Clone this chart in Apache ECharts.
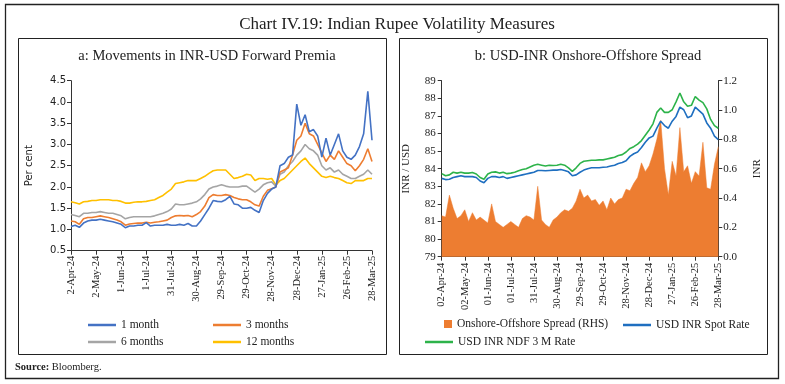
<!DOCTYPE html>
<html>
<head>
<meta charset="utf-8">
<script src="https://cdn.jsdelivr.net/npm/echarts@6/dist/echarts.min.js"></script>
<style>
html,body{margin:0;padding:0;background:#fff;}
#c{width:785px;height:384px;}
</style>
</head>
<body>
<div id="c"></div>
<script>
// ---- Data (5-day steps, 2-Apr-24 .. 28-Mar-25) ----
const leftTickLabels = ['2-Apr-24','2-May-24','1-Jun-24','1-Jul-24','31-Jul-24','30-Aug-24','29-Sep-24','29-Oct-24','28-Nov-24','28-Dec-24','27-Jan-25','26-Feb-25','28-Mar-25'];
const rightTickLabels = ['02-Apr-24','02-May-24','01-Jun-24','01-Jul-24','31-Jul-24','30-Aug-24','29-Sep-24','29-Oct-24','28-Nov-24','28-Dec-24','27-Jan-25','26-Feb-25','28-Mar-25'];

const fwd1m = [1.07,1.10,1.05,1.15,1.20,1.22,1.22,1.24,1.22,1.20,1.18,1.15,1.12,1.04,1.08,1.08,1.10,1.10,1.16,1.08,1.10,1.10,1.10,
  1.12,1.10,1.10,1.12,1.10,1.14,1.08,1.08,1.20,1.35,1.50,1.68,1.66,1.65,1.70,1.78,1.60,1.58,1.50,1.50,1.52,1.45,1.40,1.68,1.85,1.95,
  2.00,2.50,2.55,2.70,2.75,3.95,3.45,3.70,3.30,3.35,3.20,2.70,3.15,2.75,3.00,3.25,2.85,2.70,2.65,2.75,2.95,3.25,4.25,3.10];
const fwd3m = [1.20,1.18,1.12,1.25,1.28,1.28,1.30,1.32,1.30,1.28,1.25,1.22,1.18,1.10,1.13,1.14,1.15,1.15,1.17,1.15,1.17,1.18,1.20,
  1.22,1.28,1.32,1.33,1.32,1.33,1.30,1.35,1.42,1.55,1.75,1.82,1.80,1.80,1.82,1.80,1.75,1.72,1.70,1.70,1.65,1.58,1.55,1.78,1.92,1.96,
  2.00,2.35,2.40,2.45,2.75,3.10,3.20,3.50,3.25,3.20,3.00,2.80,2.60,2.75,2.65,2.85,2.70,2.55,2.50,2.38,2.50,2.65,2.90,2.60];
const fwd6m = [1.35,1.33,1.30,1.38,1.38,1.40,1.40,1.42,1.40,1.38,1.38,1.35,1.32,1.25,1.28,1.30,1.30,1.30,1.30,1.30,1.32,1.35,1.38,
  1.42,1.48,1.60,1.58,1.58,1.60,1.62,1.65,1.72,1.82,1.95,2.00,2.02,2.05,2.02,2.00,2.00,2.00,2.02,2.02,1.95,1.88,1.95,2.05,2.10,2.12,
  2.02,2.30,2.35,2.50,2.60,2.75,2.85,3.00,2.90,2.85,2.75,2.50,2.40,2.45,2.35,2.40,2.30,2.25,2.20,2.20,2.25,2.30,2.40,2.30];
const fwd12m = [1.65,1.63,1.60,1.65,1.66,1.68,1.68,1.70,1.70,1.70,1.68,1.68,1.66,1.62,1.62,1.64,1.65,1.65,1.66,1.68,1.70,1.75,1.80,
  1.88,1.95,2.08,2.10,2.12,2.15,2.15,2.15,2.20,2.25,2.32,2.38,2.40,2.40,2.40,2.30,2.20,2.22,2.25,2.30,2.28,2.15,2.20,2.20,2.18,2.20,
  2.05,2.15,2.20,2.30,2.40,2.50,2.60,2.68,2.55,2.45,2.35,2.25,2.22,2.25,2.22,2.20,2.15,2.10,2.08,2.15,2.15,2.15,2.20,2.20];

const spotRate = [83.45,83.38,83.40,83.50,83.55,83.60,83.55,83.55,83.55,83.50,83.30,83.20,83.45,83.55,83.55,83.50,83.55,83.45,83.50,83.55,83.60,83.65,83.70,
  83.75,83.80,83.90,83.90,83.88,83.90,83.92,83.92,83.95,83.90,83.82,83.60,83.65,83.80,83.92,84.00,84.05,84.05,84.05,84.08,84.10,84.15,84.20,84.30,84.35,84.45,
  84.70,84.85,84.95,85.20,85.50,85.75,85.85,86.30,86.70,86.45,86.30,86.70,86.97,87.50,87.35,86.90,87.00,87.50,87.30,87.10,86.60,86.30,85.85,85.65];
const ndfRate = [83.72,83.60,83.65,83.80,83.75,83.80,83.75,83.75,83.78,83.70,83.50,83.40,83.70,83.80,83.82,83.75,83.80,83.72,83.75,83.80,83.88,83.95,84.00,
  84.10,84.20,84.25,84.20,84.15,84.20,84.18,84.20,84.25,84.20,84.05,83.85,84.05,84.30,84.42,84.45,84.48,84.48,84.50,84.50,84.55,84.60,84.65,84.75,84.80,84.95,
  85.15,85.25,85.40,85.60,85.90,86.20,86.55,87.20,87.45,87.20,87.20,87.35,87.80,88.30,87.80,87.55,87.60,88.10,87.90,87.75,87.40,86.80,86.45,86.30];
const spread = [0.28,0.27,0.42,0.33,0.26,0.28,0.32,0.24,0.30,0.25,0.27,0.25,0.23,0.36,0.24,0.22,0.20,0.22,0.24,0.22,0.20,0.26,0.28,
  0.27,0.25,0.48,0.25,0.22,0.20,0.25,0.27,0.30,0.32,0.31,0.33,0.38,0.46,0.40,0.42,0.38,0.39,0.35,0.38,0.32,0.40,0.36,0.39,0.40,0.46,
  0.45,0.50,0.54,0.64,0.58,0.62,0.70,0.80,0.93,0.60,0.42,0.65,0.55,0.88,0.58,0.62,0.50,0.58,0.55,0.78,0.47,0.46,0.63,0.75];

// category dates (5-day steps)
const categories = [];
(function(){
  const mon = ['Jan','Feb','Mar','Apr','May','Jun','Jul','Aug','Sep','Oct','Nov','Dec'];
  const d0 = Date.UTC(2024,3,2);
  for (let i = 0; i < spread.length; i++) {
    const d = new Date(d0 + i*5*86400000);
    categories.push(d.getUTCDate() + '-' + mon[d.getUTCMonth()] + '-' + String(d.getUTCFullYear()).slice(2));
  }
})();

const SERIF = '"Liberation Serif", "DejaVu Serif", serif';
const SANS = '"DejaVu Sans", sans-serif';
const AX = '#333';

const chart = echarts.init(document.getElementById('c'), null, {renderer:'canvas'});

function legendItem(name, left, top, icon, w, h) {
  return {data:[name], left:left, top:top, padding:0, icon:icon, itemWidth:w, itemHeight:h, itemGap:0,
    textStyle:{fontFamily:SERIF, fontSize:11.5, color:'#222'}, selectedMode:false};
}

const option = {
  animation:false,
  backgroundColor:'#fff',
  title:[
    {text:'Chart IV.19: Indian Rupee Volatility Measures', left:392, top:11, textAlign:'center',
     textStyle:{fontFamily:SERIF, fontSize:17, fontWeight:'normal', color:'#222'}},
    {text:'a: Movements in INR-USD Forward Premia', left:202, top:44, textAlign:'center',
     textStyle:{fontFamily:SERIF, fontSize:14.5, fontWeight:'normal', color:'#222'}},
    {text:'b: USD-INR Onshore-Offshore Spread', left:583, top:44, textAlign:'center',
     textStyle:{fontFamily:SERIF, fontSize:14.5, fontWeight:'normal', color:'#222'}}
  ],
  graphic:[
    {type:'rect', shape:{x:5.5, y:4.5, width:773, height:374}, style:{fill:'none', stroke:'#222', lineWidth:1.3}},
    {type:'rect', shape:{x:18.5, y:38.5, width:368, height:316}, style:{fill:'none', stroke:'#222', lineWidth:1}},
    {type:'rect', shape:{x:399.5, y:38.5, width:368, height:316}, style:{fill:'none', stroke:'#222', lineWidth:1}},
    {type:'text', left:15, top:362, style:{text:'{b|Source:} Bloomberg.', font:'10.5px ' + SERIF, fill:'#222',
      rich:{b:{fontWeight:'bold', fontFamily:SERIF, fontSize:10.5}}}}
  ],
  legend:[
    legendItem('1 month', 88, 319, 'rect', 28, 2.5),
    legendItem('3 months', 213, 319, 'rect', 28, 2.5),
    legendItem('6 months', 88, 336, 'rect', 28, 2.5),
    legendItem('12 months', 213, 336, 'rect', 28, 2.5),
    legendItem('Onshore-Offshore Spread (RHS)', 444, 318, 'rect', 8, 8),
    legendItem('USD INR Spot Rate', 623, 319, 'rect', 28, 2.5),
    legendItem('USD INR NDF 3 M Rate', 425, 336, 'rect', 28, 2.5)
  ],
  grid:[
    {left:71, right:413, top:80.7, bottom:133.3},
    {left:441.7, right:66.7, top:80.7, bottom:127.3}
  ],
  xAxis:[
    {type:'category', gridIndex:0, data:categories, boundaryGap:false,
     axisLine:{lineStyle:{color:AX, width:1}},
     axisTick:{interval:5, length:4, lineStyle:{color:AX}},
     axisLabel:{interval:5, rotate:90, margin:5, fontFamily:SERIF, fontSize:10.5, color:'#222',
       formatter:function(v, idx){ return leftTickLabels[Math.round(idx/6)] || ''; }}},
    {type:'category', gridIndex:1, data:categories, boundaryGap:false,
     axisLine:{lineStyle:{color:AX, width:1}},
     axisTick:{interval:5, length:4, lineStyle:{color:AX}},
     axisLabel:{interval:5, rotate:90, margin:6, fontFamily:SERIF, fontSize:10.5, color:'#222',
       formatter:function(v, idx){ return rightTickLabels[Math.round(idx/6)] || ''; }}}
  ],
  yAxis:[
    {type:'value', gridIndex:0, min:0.5, max:4.5, interval:0.5, splitLine:{show:false},
     axisLine:{show:true, lineStyle:{color:AX}}, axisTick:{show:true, length:4, lineStyle:{color:AX}},
     axisLabel:{fontFamily:SANS, fontSize:10, color:'#222', margin:5, formatter:function(v){return v.toFixed(1);}},
     name:'Per cent', nameLocation:'middle', nameGap:37, nameRotate:90,
     nameTextStyle:{fontFamily:SANS, fontSize:10, color:'#222'}},
    {type:'value', gridIndex:1, min:79, max:89, interval:1, splitLine:{show:false},
     axisLine:{show:true, lineStyle:{color:AX}}, axisTick:{show:true, length:4, lineStyle:{color:AX}},
     axisLabel:{fontFamily:SERIF, fontSize:11, color:'#222', margin:6},
     name:'INR / USD', nameLocation:'middle', nameGap:30, nameRotate:90,
     nameTextStyle:{fontFamily:SERIF, fontSize:11, color:'#222'}},
    {type:'value', gridIndex:1, position:'right', min:0, max:1.2, interval:0.2, splitLine:{show:false},
     axisLine:{show:true, lineStyle:{color:AX}}, axisTick:{show:true, length:4, lineStyle:{color:AX}},
     axisLabel:{fontFamily:SERIF, fontSize:11, color:'#222', margin:5, formatter:function(v){return v.toFixed(1);}},
     name:'INR', nameLocation:'middle', nameGap:33, nameRotate:90,
     nameTextStyle:{fontFamily:SERIF, fontSize:11, color:'#222'}}
  ],
  series:[
    {name:'12 months', type:'line', xAxisIndex:0, yAxisIndex:0, data:fwd12m, showSymbol:false, color:'#FFC000', lineStyle:{width:1.6, color:'#FFC000'}},
    {name:'6 months', type:'line', xAxisIndex:0, yAxisIndex:0, data:fwd6m, showSymbol:false, color:'#A5A5A5', lineStyle:{width:1.6, color:'#A5A5A5'}},
    {name:'3 months', type:'line', xAxisIndex:0, yAxisIndex:0, data:fwd3m, showSymbol:false, color:'#ED7D31', lineStyle:{width:1.6, color:'#ED7D31'}},
    {name:'1 month', type:'line', xAxisIndex:0, yAxisIndex:0, data:fwd1m, showSymbol:false, color:'#4472C4', lineStyle:{width:1.6, color:'#4472C4'}},
    {name:'Onshore-Offshore Spread (RHS)', type:'line', xAxisIndex:1, yAxisIndex:2, data:spread, showSymbol:false,
     color:'#ED7D31', lineStyle:{width:0.5, color:'#ED7D31'}, areaStyle:{color:'#ED7D31', opacity:1}},
    {name:'USD INR Spot Rate', type:'line', xAxisIndex:1, yAxisIndex:1, data:spotRate, showSymbol:false, color:'#1F6FC0', lineStyle:{width:1.6, color:'#1F6FC0'}},
    {name:'USD INR NDF 3 M Rate', type:'line', xAxisIndex:1, yAxisIndex:1, data:ndfRate, showSymbol:false, color:'#2DB34A', lineStyle:{width:1.6, color:'#2DB34A'}}
  ]
};
chart.setOption(option);
</script>
</body>
</html>
